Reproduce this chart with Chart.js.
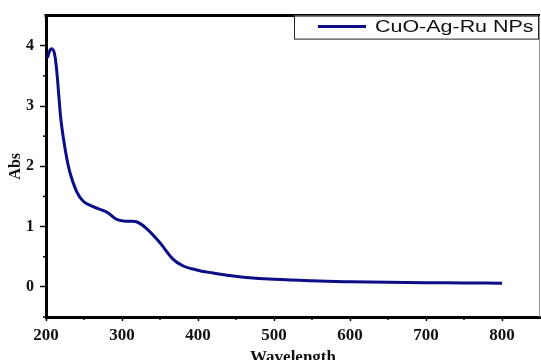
<!DOCTYPE html>
<html>
<head>
<meta charset="utf-8">
<script src="https://cdn.jsdelivr.net/npm/chart.js@4"></script>
<style>
    html, body { margin: 0; padding: 0; background: #fff; }
    canvas { display: block; }
</style>
</head>
<body>
<canvas id="uvChart" width="541" height="360"></canvas>
<script>
/* ======= Data ======= */
const wavelength = [202, 205, 208, 211, 214, 217, 220, 225, 231, 240, 249, 262, 280, 293, 306, 319, 332, 350, 367, 380, 392, 405, 420, 440, 460, 500, 550, 600, 650, 700, 750, 800];
const absorbance = [3.80, 3.92, 3.95, 3.88, 3.60, 3.15, 2.73, 2.30, 1.92, 1.59, 1.42, 1.33, 1.24, 1.12, 1.09, 1.08, 0.97, 0.73, 0.46, 0.35, 0.30, 0.26, 0.23, 0.19, 0.16, 0.125, 0.10, 0.085, 0.075, 0.07, 0.065, 0.06];
const seriesLabel = 'CuO-Ag-Ru NPs';

const xTicks = [200, 300, 400, 500, 600, 700, 800];
const xMinorTicks = [250, 350, 450, 550, 650, 750];
const yTicks = [0, 1, 2, 3, 4];
const yMinorTicks = [-0.5, 0.5, 1.5, 2.5, 3.5];

const lineColor = '#0d0d87';
const tickFont = { family: '"Liberation Serif", "Times New Roman", serif', weight: 'bold' };

/* ======= Frame, minor ticks and boxed legend ======= */
const framePlugin = {
    id: 'frame',
    afterDraw(chart) {
        const { ctx, chartArea: a, scales: { x, y } } = chart;
        ctx.save();
        // top border (thick) and right border (thin grey)
        ctx.strokeStyle = '#000';
        ctx.lineWidth = 3;
        ctx.beginPath();
        ctx.moveTo(a.left - 1.5, a.top);
        ctx.lineTo(a.right, a.top);
        ctx.stroke();
        ctx.strokeStyle = '#999';
        ctx.lineWidth = 1;
        ctx.beginPath();
        ctx.moveTo(a.right - 0.5, a.top);
        ctx.lineTo(a.right - 0.5, a.bottom);
        ctx.stroke();

        // minor ticks
        ctx.strokeStyle = '#000';
        ctx.lineWidth = 1.5;
        xMinorTicks.forEach(v => {
            const px = x.getPixelForValue(v);
            ctx.beginPath();
            ctx.moveTo(px, a.bottom);
            ctx.lineTo(px, a.bottom + 3);
            ctx.stroke();
        });
        yMinorTicks.forEach(v => {
            const py = y.getPixelForValue(v);
            ctx.beginPath();
            ctx.moveTo(a.left, py);
            ctx.lineTo(a.left - 3, py);
            ctx.stroke();
        });

        // legend box
        const bx = a.right - 246, by = a.top, bw = 244, bh = 23;
        ctx.fillStyle = '#fff';
        ctx.fillRect(bx, by, bw, bh);
        ctx.strokeStyle = '#222';
        ctx.lineWidth = 1;
        ctx.strokeRect(bx + 0.5, by + 0.5, bw, bh);
        ctx.strokeStyle = lineColor;
        ctx.lineWidth = 3;
        ctx.beginPath();
        ctx.moveTo(bx + 24, by + 11);
        ctx.lineTo(bx + 72, by + 11);
        ctx.stroke();
        ctx.fillStyle = '#111';
        ctx.font = '16.5px "Liberation Sans", Arial, sans-serif';
        ctx.textBaseline = 'middle';
        ctx.translate(bx + 81, by + 12);
        ctx.scale(1.3, 1);
        ctx.fillText(chart.data.datasets[0].label, 0, 0);
        ctx.restore();
    }
};

const ctx = document.getElementById('uvChart').getContext('2d');
new Chart(ctx, {
    type: 'line',
    data: {
        datasets: [{
            label: seriesLabel,
            data: wavelength.map((w, i) => ({ x: w, y: absorbance[i] })),
            borderColor: lineColor,
            borderWidth: 3,
            pointRadius: 0,
            fill: false,
            tension: 0.4
        }]
    },
    options: {
        responsive: false,
        animation: false,
        layout: { padding: { top: 13, right: 1, left: 0, bottom: 0 } },
        plugins: {
            legend: { display: false },
            tooltip: { enabled: false }
        },
        scales: {
            x: {
                type: 'linear',
                min: 200,
                max: 850,
                afterBuildTicks: s => { s.ticks = xTicks.map(v => ({ value: v })); },
                afterFit: s => { s.height = 43; },
                border: { color: '#000', width: 3 },
                grid: { drawOnChartArea: false, drawTicks: true, tickLength: 4, tickColor: '#000', tickWidth: 1.5 },
                ticks: { color: '#111', padding: 4, maxRotation: 0, font: { ...tickFont, size: 17 } },
                title: {
                    display: true,
                    text: 'Wavelength',
                    color: '#111',
                    font: { ...tickFont, size: 17, lineHeight: 1 },
                    padding: { top: 0, bottom: -6 }
                }
            },
            y: {
                min: -0.5,
                max: 4.5,
                afterBuildTicks: s => { s.ticks = yTicks.map(v => ({ value: v })); },
                afterFit: s => { s.width = 46; },
                border: { color: '#000', width: 3 },
                grid: { drawOnChartArea: false, drawTicks: true, tickLength: 6, tickColor: '#000', tickWidth: 1.5 },
                ticks: { color: '#111', padding: 6, font: { ...tickFont, size: 16 } },
                title: {
                    display: true,
                    text: 'Abs',
                    color: '#111',
                    font: { ...tickFont, size: 16, lineHeight: 1 },
                    padding: { top: 8, bottom: 0 }
                }
            }
        }
    },
    plugins: [framePlugin]
});
</script>
</body>
</html>
